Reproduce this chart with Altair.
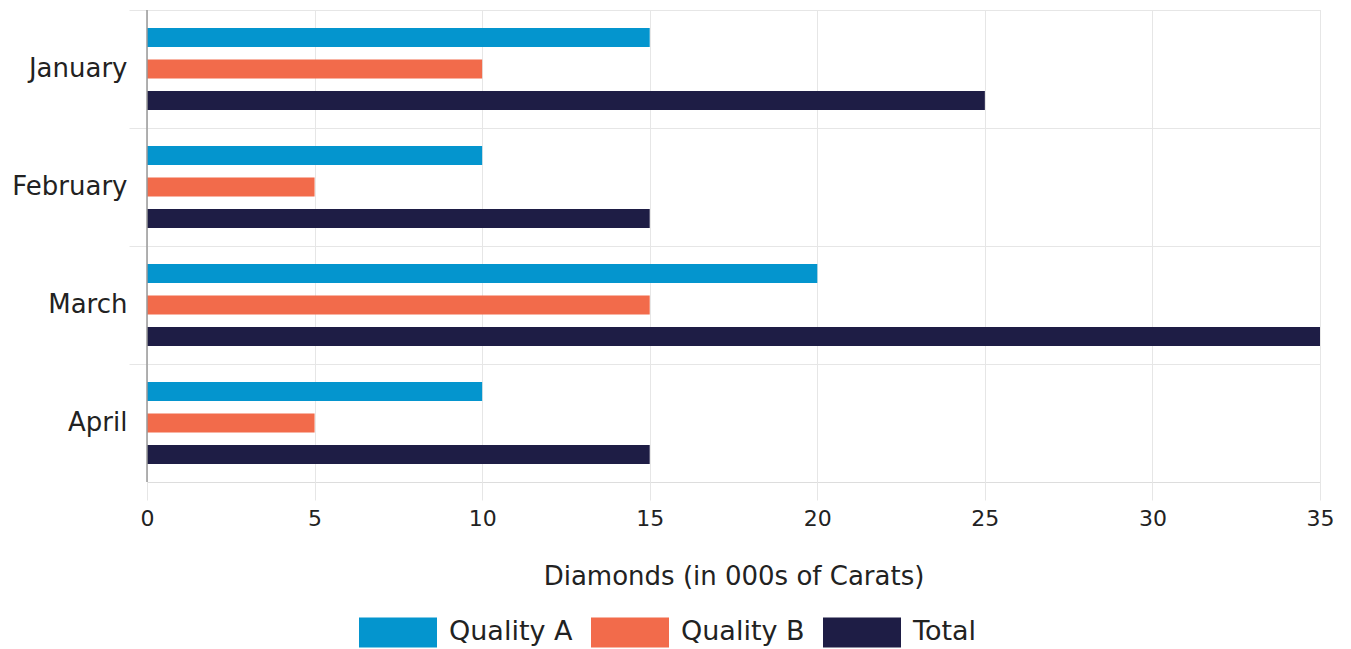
import altair as alt
import pandas as pd

months = ["January", "February", "March", "April"]
series = ["Quality A", "Quality B", "Total"]
quality_a = [15, 10, 20, 10]
quality_b = [10, 5, 15, 5]
total = [25, 15, 35, 15]
colors = ["#0495CE", "#F26B4B", "#1E1D45"]

rows = []
for i, m in enumerate(months):
    for s, vals in zip(series, [quality_a, quality_b, total]):
        rows.append({"Month": m, "Series": s, "Value": vals[i]})
df = pd.DataFrame(rows)

FONT = "DejaVu Sans"
FS_Y = 26
FS_TITLE = 26
FS_LEG = 27
FS_NUM = 22

chart = alt.Chart(df).mark_bar().encode(
    y=alt.Y("Month:N", sort=months, title=None,
            scale=alt.Scale(paddingInner=0, paddingOuter=0),
            axis=alt.Axis(labelFontSize=FS_Y, labelColor="#222222", labelFont=FONT,
                          tickColor="#e6e6e6", tickSize=18, labelPadding=2,
                          domain=False, grid=True, gridColor="#e6e6e6",
                          bandPosition=0)),
    yOffset=alt.YOffset("Series:N", sort=series,
                        scale=alt.Scale(paddingInner=0.4, paddingOuter=0.573)),
    x=alt.X("Value:Q", title="Diamonds (in 000s of Carats)",
            scale=alt.Scale(domain=[0, 35], nice=False),
            axis=alt.Axis(values=list(range(0, 36, 5)), labelFontSize=FS_NUM,
                          labelColor="#222222", labelFont=FONT, labelFlush=False,
                          titleFontSize=FS_TITLE, titleFont=FONT, titleColor="#222222",
                          titleFontWeight="normal", titlePadding=34,
                          tickColor="#e6e6e6", tickSize=18, labelPadding=8,
                          domain=False, gridColor="#e6e6e6")),
    color=alt.Color("Series:N", sort=series,
                    scale=alt.Scale(domain=series, range=colors),
                    legend=alt.Legend(title=None, orient="none", direction="horizontal",
                                      legendX=212, legendY=583,
                                      symbolType="M-1,-0.385H1V0.385H-1Z",
                                      symbolSize=6084, symbolStrokeWidth=0,
                                      labelFontSize=FS_LEG, labelFont=FONT,
                                      labelColor="#222222", labelOffset=12,
                                      columnPadding=18)),
)

rule = alt.Chart(pd.DataFrame({"x": [0]})).mark_rule(color="#999999", strokeWidth=1.5).encode(
    x=alt.X("x:Q")
)

final = alt.layer(chart, rule).properties(
    width=1173, height=472,
    padding={"left": 3, "top": 1, "right": 5, "bottom": 0},
).configure_view(
    stroke="#e6e6e6"
).configure(font=FONT)

final.save("out.html", embed_options={"renderer": "svg", "actions": False})
